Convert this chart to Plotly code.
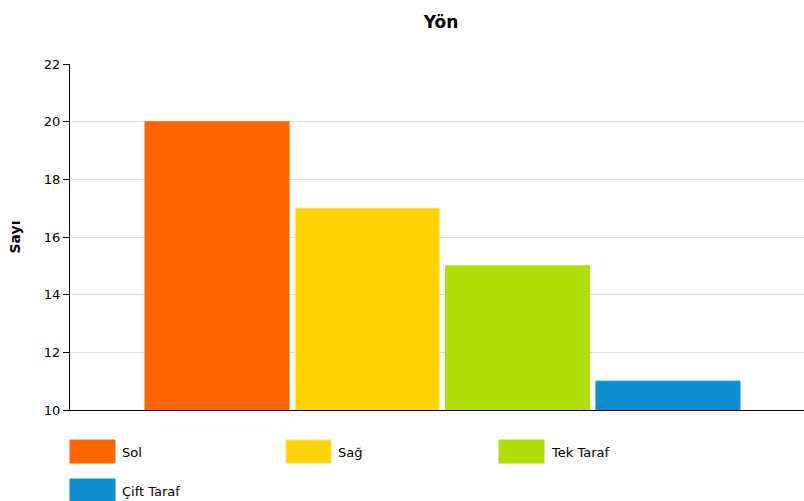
import plotly.graph_objects as go

categories = ["Sol", "Sağ", "Tek Taraf", "Çift Taraf"]
values = [20, 17, 15, 11]
colors = ["#FF6600", "#FCD202", "#B0DE09", "#0D8ECF"]
line_colors = ["#FF6600", "#FFE36A", "#B0DE09", "#0D8ECF"]
y_ticks = [10, 12, 14, 16, 18, 20, 22]

W, H = 804, 501
L, R, T, B = 70, 0, 64, 91
pw, ph = W - L - R, H - T - B

fig = go.Figure()
for i, (c, v, col, lc) in enumerate(zip(categories, values, colors, line_colors)):
    fig.add_trace(go.Bar(
        x=[i], y=[v], base=0, name=c, width=0.958,
        marker=dict(color=col, line=dict(color=lc, width=1)),
        showlegend=False,
    ))

# custom legend (large swatches like the reference)
col_px = [0, 216, 429]
shapes, annots = [], []
for i, c in enumerate(categories):
    row, col = divmod(i, 3)
    x0 = L + col_px[col]
    y_top = 440 + row * 39
    shapes.append(dict(type="rect", xref="paper", yref="paper",
                       x0=(x0 - L) / pw, x1=(x0 + 45 - L) / pw,
                       y0=(H - B - y_top) / ph, y1=(H - B - y_top - 23) / ph,
                       fillcolor=colors[i], line=dict(color=line_colors[i], width=1)))
    annots.append(dict(text=c, xref="paper", yref="paper",
                       x=(x0 + 50 - L) / pw, y=(H - B - y_top - 12) / ph,
                       xanchor="left", yanchor="middle", showarrow=False,
                       font=dict(size=13, color="#000", family="DejaVu Sans")))

fig.update_layout(
    width=W, height=H,
    margin=dict(l=L, r=R, t=T, b=B),
    paper_bgcolor="white", plot_bgcolor="white",
    title=dict(text="<b>Yön</b>", x=(441) / W, xanchor="center", y=1 - 22 / H, yanchor="middle",
               font=dict(size=17, color="#000", family="DejaVu Sans")),
    font=dict(family="DejaVu Sans", size=12, color="#000"),
    barmode="overlay",
    xaxis=dict(range=[-0.978, 3.905], showticklabels=False, showgrid=False, zeroline=False,
               showline=True, linecolor="#000", linewidth=1, ticks="", fixedrange=True),
    yaxis=dict(range=[10, 22], tickvals=y_ticks, ticks="outside", ticklen=6, tickcolor="#000",
               showline=True, linecolor="#000", linewidth=1, gridcolor="#DDDDDD",
               zeroline=False, tickfont=dict(size=13, family="DejaVu Sans"),
               title=dict(text="<b>Sayı</b>", font=dict(size=14, family="DejaVu Sans"), standoff=19)),
    shapes=shapes, annotations=annots,
)
fig.write_html("out.html")
